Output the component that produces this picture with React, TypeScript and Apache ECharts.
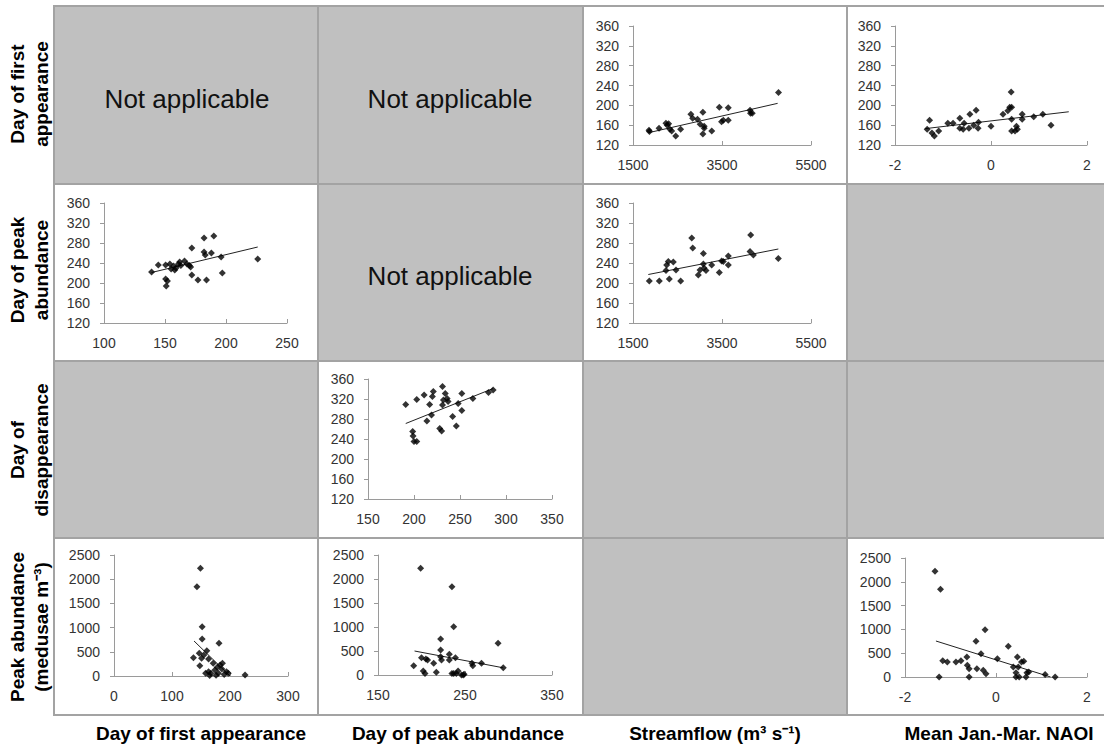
import React, { useEffect, useRef } from "react";
import * as echarts from "echarts";

// ---------- data ----------
// Row 1: Day of first appearance vs streamflow / NAOI
const flowVsFirst: number[][] = [
  [1860, 150], [1870, 147], [2085, 154], [2240, 164], [2270, 160], [2300, 163], [2330, 152],
  [2370, 148], [2460, 138], [2570, 152], [2800, 182], [2840, 174], [2950, 172], [3010, 162],
  [3070, 186], [3070, 142], [3100, 154], [3100, 158], [3270, 148], [3440, 196], [3490, 167],
  [3530, 170], [3640, 195], [3640, 170], [4130, 190], [4140, 184], [4180, 184], [4770, 226],
];
const flowVsFirstTrend: number[][] = [[1860, 145], [4750, 204]];

const naoVsFirst: number[][] = [
  [-1.33, 152], [-1.28, 170], [-1.23, 144], [-1.18, 138], [-1.09, 148], [-0.9, 164], [-0.79, 164],
  [-0.65, 174], [-0.65, 154], [-0.58, 152], [-0.56, 164], [-0.46, 154], [-0.44, 182], [-0.36, 160],
  [-0.31, 190], [-0.27, 154], [-0.26, 166], [0.0, 158], [0.25, 182], [0.35, 189], [0.39, 196],
  [0.42, 227], [0.43, 196], [0.43, 172], [0.43, 148], [0.5, 148], [0.53, 158], [0.55, 152],
  [0.65, 182], [0.65, 172], [0.89, 177], [1.08, 182], [1.25, 160],
];
const naoVsFirstTrend: number[][] = [[-1.37, 153], [1.62, 187]];

// Row 2: Day of peak abundance vs first appearance / streamflow
const firstVsPeak: number[][] = [
  [139, 222], [144.5, 236], [150.5, 236], [150.5, 208], [151, 194], [152, 204], [154, 238],
  [155, 228], [157, 234], [158, 226], [159, 230], [161, 238], [162, 242], [163, 235], [166, 244],
  [168, 238], [170, 235], [171, 232], [172, 270], [172, 216], [177, 206], [182, 290], [182, 262],
  [183, 256], [184, 206], [188, 260], [190, 294], [196, 252], [197, 220], [226, 248],
];
const firstVsPeakTrend: number[][] = [[139, 221], [226, 272]];

const flowVsPeak: number[][] = [
  [1866, 204], [2091, 204], [2242, 225], [2257, 236], [2293, 243], [2316, 208], [2406, 242],
  [2466, 226], [2571, 204], [2820, 290], [2842, 270], [2968, 216], [3006, 226], [3081, 259],
  [3081, 238], [3096, 230], [3140, 225], [3268, 236], [3440, 221], [3492, 244], [3530, 243],
  [3642, 254], [3642, 236], [4145, 296], [4130, 263], [4205, 256], [4766, 249],
];
const flowVsPeakTrend: number[][] = [[1844, 217], [4766, 268]];

// Row 3: Day of disappearance vs peak day
const peakVsDisappear: number[][] = [
  [191, 309], [198.6, 255], [199, 246], [200, 235], [203, 235], [203, 319], [211, 328],
  [214, 276], [217, 309], [219, 288], [220, 325], [221, 335], [228, 261], [230, 256], [231, 345],
  [232, 318], [231, 308], [234, 331], [236, 321], [237, 315], [242, 285], [246, 266], [248, 311],
  [252, 331], [252, 297], [264, 321], [281, 333], [286, 338],
];
const peakVsDisappearTrend: number[][] = [[191, 271], [286, 341]];

// Row 4: Peak abundance vs first appearance / peak day / NAOI
const firstVsAbund: number[][] = [
  [149, 2225], [143, 1845], [152, 1019], [152, 764], [137, 378], [147, 469], [148, 213],
  [151, 365], [155, 434], [160, 520], [163, 352], [158, 55], [163, 90], [167, 55], [171, 262],
  [174, 124], [180, 55], [181, 675], [183, 227], [186, 145], [187, 262], [194, 90], [197, 55],
  [226, 20], [165, 10], [176, 15], [190, 30], [178, 180],
];
const firstVsAbundTrend: number[][] = [[138, 723], [200, 0]];

const peakVsAbund: number[][] = [
  [191, 194], [199, 2222], [200, 360], [202, 83], [204, 30], [205, 333], [207, 315], [214, 243],
  [217, 56], [222, 521], [222, 382], [222, 750], [223, 315], [232, 431], [232, 315], [235, 1840],
  [237, 1007], [235, 30], [237, 30], [239, 360], [240, 30], [242, 83], [246, 0], [248, 0],
  [249, 15], [258, 243], [259, 194], [269, 243], [288, 660], [294, 153],
];
const peakVsAbundTrend: number[][] = [[192, 500], [294, 150]];

const naoVsAbund: number[][] = [
  [-1.34, 2220], [-1.22, 1842], [-1.25, 0], [-1.17, 343], [-1.07, 315], [-0.88, 315], [-0.77, 343],
  [-0.64, 420], [-0.63, 245], [-0.59, 175], [-0.59, 0], [-0.44, 750], [-0.42, 175], [-0.33, 490],
  [-0.28, 140], [-0.22, 70], [-0.24, 995], [0.03, 385], [0.27, 645], [0.38, 210], [0.44, 0],
  [0.47, 420], [0.49, 210], [0.51, 0], [0.56, 315], [0.61, 329], [0.66, 0], [0.72, 105],
  [0.44, 90], [0.68, 90], [1.08, 50], [1.3, 0],
];
const naoVsAbundTrend: number[][] = [[-1.32, 756], [1.2, 0]];

// axis ranges
const dayAxis = { min: 120, max: 360, interval: 40 };
const abundAxis = { min: 0, max: 2500, interval: 500 };
const flowAxis = { min: 1500, max: 5500, interval: 2000 };
const naoAxis = { min: -2, max: 2, interval: 2 };
const firstAxisR2 = { min: 100, max: 250, interval: 50 };
const peakAxisR3 = { min: 150, max: 350, interval: 50 };
const firstAxisR4 = { min: 0, max: 300, interval: 100 };
const peakAxisR4 = { min: 150, max: 350, interval: 100 };

const rowLabels = [
  "Day of first\nappearance",
  "Day of peak\nabundance",
  "Day of\ndisappearance",
  "Peak abundance\n(medusae m\u207B\u00B3)",
];
const colLabels = [
  "Day of first appearance",
  "Day of peak abundance",
  "Streamflow (m\u00B3 s\u207B\u00B9)",
  "Mean Jan.-Mar. NAOI",
];
const notApplicable = "Not applicable";

// ---------- layout ----------
const FONT = "'Liberation Sans', Arial, sans-serif";
const colEdges = [54, 318, 583, 847, 1112];
const rowEdges = [6, 184, 361, 538, 715];
// 'w' = white scatter panel, 'g' = grey panel
const cellKinds = [
  ["g", "g", "w", "w"],
  ["w", "g", "w", "g"],
  ["g", "w", "g", "g"],
  ["w", "w", "g", "w"],
];

const panels = [
  { data: flowVsFirst, trend: flowVsFirstTrend, grid: [633, 26, 178, 119], x: flowAxis, y: dayAxis },
  { data: naoVsFirst, trend: naoVsFirstTrend, grid: [895, 26, 192, 119], x: naoAxis, y: dayAxis },
  { data: firstVsPeak, trend: firstVsPeakTrend, grid: [104, 203, 183, 120], x: firstAxisR2, y: dayAxis },
  { data: flowVsPeak, trend: flowVsPeakTrend, grid: [633, 203, 178, 120], x: flowAxis, y: dayAxis },
  { data: peakVsDisappear, trend: peakVsDisappearTrend, grid: [368, 379, 184, 120], x: peakAxisR3, y: dayAxis },
  { data: firstVsAbund, trend: firstVsAbundTrend, grid: [114, 555, 174, 121], x: firstAxisR4, y: abundAxis },
  { data: peakVsAbund, trend: peakVsAbundTrend, grid: [378, 555, 174, 120], x: peakAxisR4, y: abundAxis },
  { data: naoVsAbund, trend: naoVsAbundTrend, grid: [905, 558, 182, 119], x: naoAxis, y: abundAxis },
];

const AXIS_COLOR = "#9a9a9a";
const LABEL_COLOR = "#333";
const plain = (v: number) => String(v);

export default function App() {
  const ref = useRef<HTMLDivElement>(null);

  useEffect(() => {
    const chart = echarts.init(ref.current!, null, { renderer: "svg" });

    const grids = panels.map((p) => ({
      left: p.grid[0],
      top: p.grid[1],
      width: p.grid[2],
      height: p.grid[3],
      containLabel: false,
    }));

    const xAxes = panels.map((p, i) => ({
      type: "value",
      gridIndex: i,
      min: p.x.min,
      max: p.x.max,
      interval: p.x.interval,
      axisLine: { show: true, onZero: false, lineStyle: { color: AXIS_COLOR, width: 1 } },
      axisTick: { show: true, inside: true, length: 4, lineStyle: { color: AXIS_COLOR } },
      axisLabel: { fontSize: 14, color: LABEL_COLOR, fontFamily: FONT, margin: 13, formatter: plain },
      splitLine: { show: false },
    }));

    const yAxes = panels.map((p, i) => ({
      type: "value",
      gridIndex: i,
      min: p.y.min,
      max: p.y.max,
      interval: p.y.interval,
      axisLine: { show: true, onZero: false, lineStyle: { color: AXIS_COLOR, width: 1 } },
      axisTick: { show: true, inside: false, length: 4, lineStyle: { color: AXIS_COLOR } },
      axisLabel: { fontSize: 14, color: LABEL_COLOR, fontFamily: FONT, margin: 14, formatter: plain },
      splitLine: { show: false },
    }));

    const series: any[] = [];
    panels.forEach((p, i) => {
      series.push({
        type: "scatter",
        xAxisIndex: i,
        yAxisIndex: i,
        data: p.data,
        symbol: "diamond",
        symbolSize: 7,
        itemStyle: { color: "#000" },
        z: 4,
      });
      series.push({
        type: "line",
        xAxisIndex: i,
        yAxisIndex: i,
        data: p.trend,
        showSymbol: false,
        symbol: "none",
        lineStyle: { color: "#222", width: 1 },
        z: 3,
      });
    });

    const graphics: any[] = [];
    cellKinds.forEach((row, r) => {
      row.forEach((kind, c) => {
        graphics.push({
          type: "rect",
          z: -10,
          shape: {
            x: colEdges[c],
            y: rowEdges[r],
            width: colEdges[c + 1] - colEdges[c],
            height: rowEdges[r + 1] - rowEdges[r],
          },
          style: { fill: kind === "g" ? "#c0c0c0" : "#ffffff", stroke: "#a3a3a3", lineWidth: 2 },
        });
      });
    });

    const naPos = [
      [187, 99],
      [450, 99],
      [450, 276],
    ];
    naPos.forEach(([x, y]) => {
      graphics.push({
        type: "text",
        z: 10,
        x,
        y,
        style: {
          text: notApplicable,
          font: `26px ${FONT}`,
          fill: "#111",
          textAlign: "center",
          textVerticalAlign: "middle",
        },
      });
    });

    const rowLabelY = [94, 270, 450, 627];
    rowLabels.forEach((t, i) => {
      graphics.push({
        type: "text",
        z: 10,
        x: 29,
        y: rowLabelY[i],
        rotation: Math.PI / 2,
        style: {
          text: t,
          font: `bold 19px ${FONT}`,
          lineHeight: 24,
          fill: "#000",
          textAlign: "center",
          textVerticalAlign: "middle",
        },
      });
    });

    const colLabelX = [201, 458, 715, 999];
    colLabels.forEach((t, i) => {
      graphics.push({
        type: "text",
        z: 10,
        x: colLabelX[i],
        y: 733,
        style: {
          text: t,
          font: `bold 19px ${FONT}`,
          fill: "#000",
          textAlign: "center",
          textVerticalAlign: "middle",
        },
      });
    });

    chart.setOption({
      animation: false,
      backgroundColor: "#ffffff",
      grid: grids,
      xAxis: xAxes,
      yAxis: yAxes,
      series,
      graphic: { elements: graphics },
    });

    return () => chart.dispose();
  }, []);

  return (
    <div
      ref={ref}
      style={{ position: "absolute", left: 0, top: 0, width: 1104, height: 747, background: "#fff" }}
    />
  );
}
